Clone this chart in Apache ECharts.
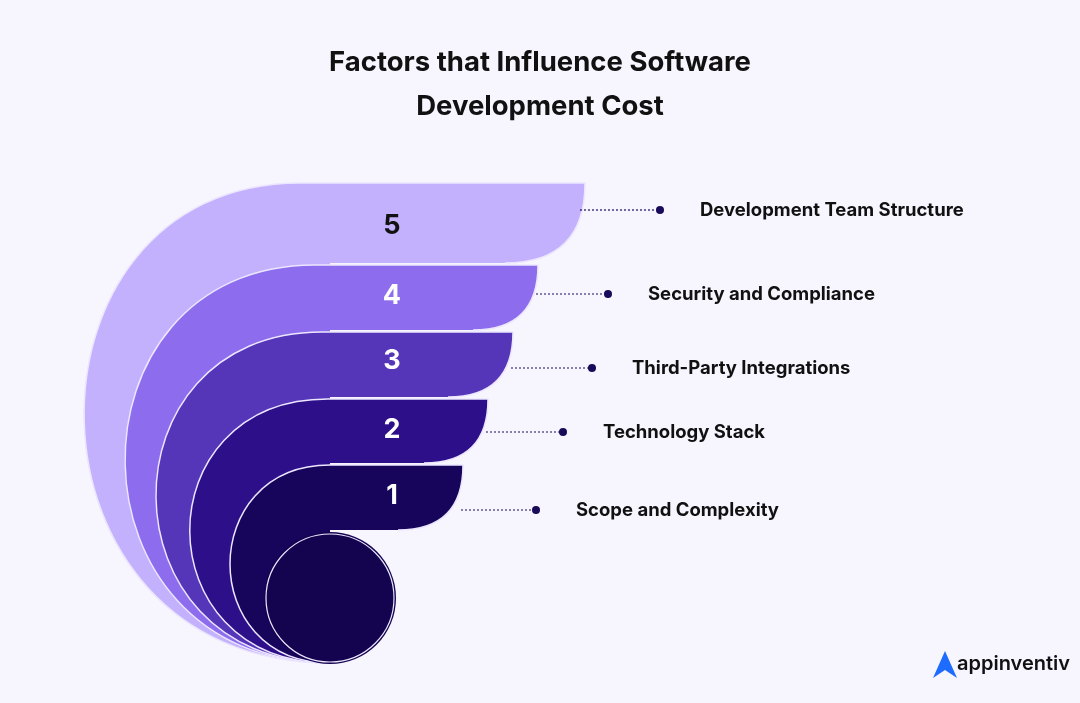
<!DOCTYPE html>
<html><head><meta charset="utf-8">
<script src="https://cdn.jsdelivr.net/npm/echarts@6/dist/echarts.min.js"></script>
<style>html,body{margin:0;background:#f7f5fe}#c{width:1080px;height:703px}</style>
</head><body><div id="c"></div>
<script>
const numbers = [5, 4, 3, 2, 1];
const categories = ['Development Team Structure','Security and Compliance','Third-Party Integrations','Technology Stack','Scope and Complexity'];
const colors = ['#c4b1fd','#8d6ded','#5535b8','#2e0f8a','#17045b'];
// layout (pixel) per layer
const layout = [
  {yT:183,yB:263,xR:585,xL:88, xA:300,num:226,lab:210,dot:660},
  {yT:265,yB:330,xR:538,xL:127,xA:315,num:296,lab:294,dot:608},
  {yT:332,yB:397,xR:513,xL:157,xA:322,num:361,lab:368,dot:592},
  {yT:399,yB:463,xR:488,xL:190,xA:328,num:430,lab:432,dot:563},
  {yT:465,yB:530,xR:463,xL:230,xA:330,num:496,lab:510,dot:536}
];
const cx=330, bottom=663;
const chart = echarts.init(document.getElementById('c'));
chart.setOption({
  backgroundColor:'#f7f5fe',
  animation:false,
  title:{text:'Factors that Influence Software\nDevelopment Cost',left:'center',top:36,
    textStyle:{fontFamily:'Inter',fontWeight:700,fontSize:27.5,lineHeight:44,color:'#111'}},
  xAxis:{show:false,min:0,max:1080},
  yAxis:{show:false,min:0,max:703,inverse:true},
  grid:{left:0,right:0,top:0,bottom:0},
  series:[{
    type:'custom',
    data:numbers.map((n,i)=>[i,n]),
    renderItem:(params,api)=>{
      const i=api.value(0), L=layout[i];
      const r=L.yB-L.yT;
      const ctrl = cx-(cx-L.xL)/0.75;
      const outer = `M${cx},${bottom} C${ctrl},${bottom} ${ctrl},${L.yT} ${L.xA},${L.yT} L${L.xR},${L.yT} Q${L.xR},${L.yB} ${L.xR-r},${L.yB}`;
      const path = `M${L.xA},${L.yT} L${L.xR},${L.yT} Q${L.xR},${L.yB} ${L.xR-r},${L.yB} L${cx},${L.yB} L${cx},${bottom} C${ctrl},${bottom} ${ctrl},${L.yT} ${L.xA},${L.yT} Z`;
      const ch=[
        {type:'path',shape:{pathData:path},style:{fill:colors[i]}},
        {type:'path',shape:{pathData:outer},style:{fill:'none',stroke:'#ece6ff',lineWidth:1.5}},
        {type:'text',style:{text:String(api.value(1)),x:392,y:L.num,textAlign:'center',textVerticalAlign:'middle',
          fill:i===0?'#111':'#fff',font:'700 27px Inter'}},
        {type:'line',shape:{x1:L.xR-(i===0?5:2),y1:L.lab,x2:L.dot,y2:L.lab},style:{stroke:'#1a0a5a',lineWidth:1.2,lineDash:[2,2]}},
        {type:'circle',shape:{cx:L.dot,cy:L.lab,r:4},style:{fill:'#1a0a5a'}},
        {type:'text',style:{text:categories[i],x:L.dot+40,y:L.lab,textVerticalAlign:'middle',fill:'#111',font:'700 18.5px Inter'}}
      ];
      if(i===4){
        ch.push({type:'circle',shape:{cx:cx,cy:598,r:66},style:{fill:'#14034f'}});
        ch.push({type:'circle',shape:{cx:cx,cy:598,r:64},style:{fill:'none',stroke:'#ece6ff',lineWidth:1.2}});
      }
      return {type:'group',children:ch};
    }
  }],
  graphic:[
    {type:'polygon',shape:{points:[[945,651],[933,678],[945,670],[957,678]]},style:{fill:'#1e6bff'}},
    {type:'text',style:{text:'appinventiv',x:957,y:664,textVerticalAlign:'middle',fill:'#111',font:'600 20px Inter'}}
  ]
});
</script></body></html>
